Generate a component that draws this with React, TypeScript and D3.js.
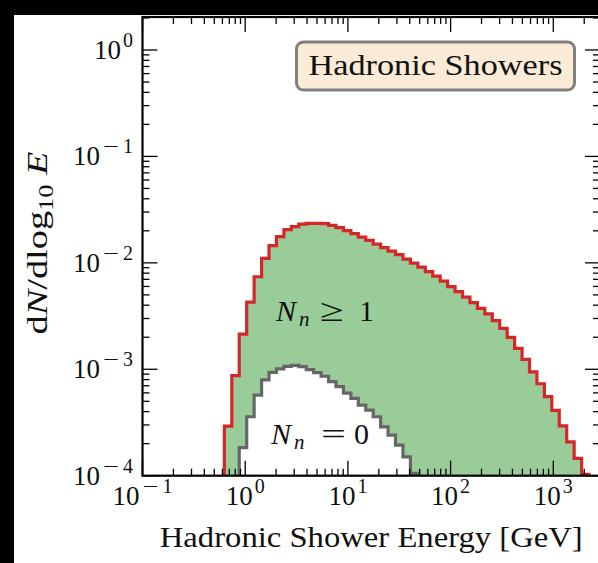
import React from "react";
import * as d3 from "d3";

// Histogram binning: log-spaced edges, 10^-1 .. 10^4 in 69 bins (exponent step)
const edgeStartExp = -1;
const edgeStepExp = 5 / 69;

// N_n >= 1 (total, red outline), bins starting at edge index 11
const redFirstBin = 11;
const redValues = [
  2.92e-4, 8.73e-4, 2.14e-3, 4.28e-3, 7.4e-3, 1.10e-2, 1.454e-2, 1.767e-2, 2.056e-2, 2.194e-2,
  2.316e-2, 2.351e-2, 2.35e-2, 2.341e-2, 2.251e-2, 2.138e-2, 2.012e-2, 1.885e-2, 1.748e-2, 1.628e-2,
  1.502e-2, 1.392e-2, 1.291e-2, 1.197e-2, 1.085e-2, 9.96e-3, 9.13e-3, 8.28e-3, 7.51e-3, 6.74e-3,
  5.99e-3, 5.37e-3, 4.77e-3, 4.23e-3, 3.74e-3, 3.32e-3, 2.86e-3, 2.42e-3, 1.99e-3, 1.57e-3,
  1.24e-3, 9.47e-4, 7.31e-4, 5.53e-4, 4.11e-4, 2.94e-4, 2.08e-4, 1.454e-4, 1.03e-4,
];

// N_n = 0 (gray outline), bins starting at edge index 13
const grayFirstBin = 13;
const grayValues = [
  1.837e-4, 3.58e-4, 5.72e-4, 7.96e-4, 9.37e-4, 1.009e-3, 1.067e-3, 1.088e-3, 1.06e-3, 9.94e-4,
  9.31e-4, 8.6e-4, 7.66e-4, 6.88e-4, 5.97e-4, 5.33e-4, 4.61e-4, 4.13e-4, 3.58e-4, 2.88e-4,
  2.41e-4, 1.94e-4, 1.505e-4, 1.05e-4,
];

const xMajorExps = [-1, 0, 1, 2, 3];
const yMajorExps = [-4, -3, -2, -1, 0];

const W = 598;
const H = 563;
const left = 142.5;
const right = 600;
const top = 17;
const bottom = 475.7;

const xScale = d3.scaleLog().domain([0.1, Math.pow(10, 3.4547)]).range([left, right]);
const yScale = d3.scaleLog().domain([1e-4, Math.pow(10, 0.31)]).range([bottom, top]);

const edge = (k: number) => Math.pow(10, edgeStartExp + k * edgeStepExp);

function stepPoints(first: number, values: number[]): [number, number][] {
  const pts: [number, number][] = [];
  const yb = bottom + 20;
  pts.push([xScale(edge(first)), yb]);
  values.forEach((v, i) => {
    const y = yScale(v);
    pts.push([xScale(edge(first + i)), y]);
    pts.push([xScale(edge(first + i + 1)), y]);
  });
  pts.push([xScale(edge(first + values.length)), yb]);
  return pts;
}

const line = d3.line();

const SERIF = "'Liberation Serif', serif";

// power-of-ten label, right edge at R, baseline at y
function PowLabel({ R, y, e }: { R: number; y: number; e: number }) {
  const neg = e < 0;
  const supW = neg ? 30 : 10;
  const gap = neg ? 3 : 2;
  return (
    <g fontFamily={SERIF} fill="#111">
      <text x={R - supW - gap} y={y} textAnchor="end" fontSize={27}>10</text>
      {neg ? (
        <>
          <text x={R - supW} y={y - 12} fontSize={20} textLength={16} lengthAdjust="spacingAndGlyphs">{"\u2212"}</text>
          <text x={R} y={y - 12} fontSize={20} textAnchor="end">{String(Math.abs(e))}</text>
        </>
      ) : (
        <text x={R} y={y - 12} fontSize={20} textAnchor="end">{String(e)}</text>
      )}
    </g>
  );
}

export default function App() {
  const redPts = stepPoints(redFirstBin, redValues);
  const grayPts = stepPoints(grayFirstBin, grayValues);
  const redPath = line(redPts) + "Z";
  const grayPath = line(grayPts) + "Z";
  const redLine = line(redPts) as string;
  const grayLine = line(grayPts) as string;

  const xMinor: number[] = [];
  const yMinor: number[] = [];
  for (let e = -1; e <= 3; e++) {
    for (let m = 2; m <= 9; m++) {
      const v = m * Math.pow(10, e);
      if (v <= xScale.domain()[1]) xMinor.push(v);
    }
  }
  for (let e = -4; e <= 0; e++) {
    for (let m = 2; m <= 9; m++) {
      const v = m * Math.pow(10, e);
      if (v <= yScale.domain()[1]) yMinor.push(v);
    }
  }
  const majLen = 15;
  const minLen = 7;

  return (
    <svg width={W} height={H} style={{ position: "absolute", left: 0, top: 0, background: "#fff" }}>
      <rect x={0} y={0} width={W} height={15} fill="#000" />
      <rect x={0} y={0} width={14} height={H} fill="#000" />
      <defs>
        <clipPath id="plotclip">
          <rect x={left} y={top} width={right - left} height={bottom - top} />
        </clipPath>
      </defs>
      <g clipPath="url(#plotclip)">
        <path d={redPath} fill="#99cc99" stroke="none" />
        <path d={grayPath} fill="#ffffff" stroke="none" />
        <path d={redLine} fill="none" stroke="#d62728" strokeWidth={3.2} strokeLinejoin="miter" />
        <path d={grayLine} fill="none" stroke="#666666" strokeWidth={3.2} strokeLinejoin="miter" />
      </g>

      {/* ticks */}
      <g stroke="#000" strokeWidth={1.3}>
        {xMajorExps.map((e) => {
          const x = xScale(Math.pow(10, e));
          return (
            <g key={"xM" + e}>
              <line x1={x} x2={x} y1={bottom} y2={bottom - majLen} />
              <line x1={x} x2={x} y1={top} y2={top + majLen} />
            </g>
          );
        })}
        {xMinor.map((v, i) => {
          const x = xScale(v);
          return (
            <g key={"xm" + i}>
              <line x1={x} x2={x} y1={bottom} y2={bottom - minLen} />
              <line x1={x} x2={x} y1={top} y2={top + minLen} />
            </g>
          );
        })}
        {yMajorExps.map((e) => {
          const y = yScale(Math.pow(10, e));
          return (
            <g key={"yM" + e}>
              <line x1={left} x2={left + majLen} y1={y} y2={y} />
              <line x1={right} x2={right - majLen} y1={y} y2={y} />
            </g>
          );
        })}
        {yMinor.map((v, i) => {
          const y = yScale(v);
          return (
            <g key={"ym" + i}>
              <line x1={left} x2={left + minLen} y1={y} y2={y} />
              <line x1={right} x2={right - minLen} y1={y} y2={y} />
            </g>
          );
        })}
      </g>
      <rect x={left} y={top} width={right - left} height={bottom - top} fill="none" stroke="#000" strokeWidth={2.2} />

      {/* tick labels */}
      {xMajorExps.map((e) => {
        const total = e < 0 ? 27 + 3 + 30 : 27 + 2 + 10;
        return <PowLabel key={"xl" + e} R={xScale(Math.pow(10, e)) + total / 2} y={505} e={e} />;
      })}
      {yMajorExps.map((e) => (
        <PowLabel key={"yl" + e} R={133} y={yScale(Math.pow(10, e)) + 9} e={e} />
      ))}

      {/* axis labels */}
      <text x={(left + right) / 2} y={546.5} textAnchor="middle" fontFamily={SERIF} fontSize={29} fill="#111" textLength={423} lengthAdjust="spacingAndGlyphs">
        Hadronic Shower Energy [GeV]
      </text>
      <text transform={`translate(47, 243) rotate(-90)`} textAnchor="middle" fontFamily={SERIF} fontSize={29} fill="#111" textLength={183} lengthAdjust="spacingAndGlyphs">
        <tspan>d</tspan>
        <tspan fontStyle="italic">N</tspan>
        <tspan>/dlog</tspan>
        <tspan fontSize={20} dy={6}>10</tspan>
        <tspan dy={-6}> </tspan>
        <tspan fontStyle="italic">E</tspan>
      </text>

      {/* legend box */}
      <rect x={296.5} y={42} width={278} height={48} rx={7} fill="#faebd7" stroke="#808080" strokeWidth={3} />
      <text x={435.5} y={75} textAnchor="middle" fontFamily={SERIF} fontSize={30} fill="#111" textLength={254} lengthAdjust="spacingAndGlyphs">
        Hadronic Showers
      </text>

      {/* annotations */}
      <g fontFamily={SERIF} fill="#111" fontSize={30}>
        <text x={276} y={321} fontStyle="italic">N</text>
        <text x={299} y={326} fontStyle="italic" fontSize={21}>n</text>
        <text x={320} y={321} fontSize={32} textLength={24} lengthAdjust="spacingAndGlyphs">{"\u2265"}</text>
        <text x={359} y={321}>1</text>
        <text x={271} y={444} fontStyle="italic">N</text>
        <text x={294} y={449} fontStyle="italic" fontSize={21}>n</text>
        <text x={321} y={444} textLength={25} lengthAdjust="spacingAndGlyphs">=</text>
        <text x={354} y={444}>0</text>
      </g>
    </svg>
  );
}
